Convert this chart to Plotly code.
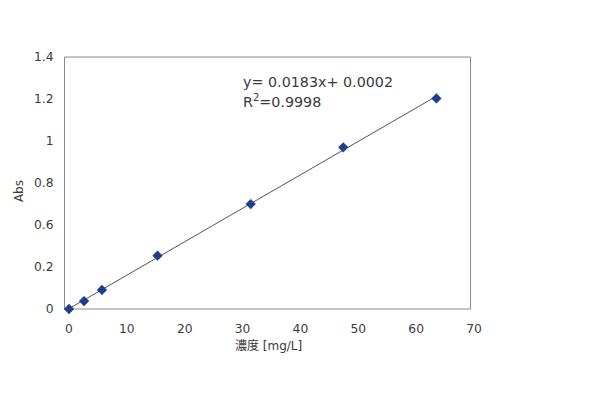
import numpy as np
import plotly.graph_objects as go

# Data
conc = [0, 2.6, 5.7, 15.3, 31.4, 47.4, 63.5]
absorb = [0.0, 0.044, 0.106, 0.296, 0.583, 0.898, 1.170]

x_ticks = [0, 10, 20, 30, 40, 50, 60, 70]
y_tick_labels = ["0", "0.2", "0.6", "0.8", "1", "1.2", "1.4"]
equation_text = "y= 0.0183x+ 0.0002"
r2_text = "R<sup>2</sup>=0.9998"
x_title = "濃度 [mg/L]"
y_title = "Abs"

FONT = "DejaVu Sans, Noto Sans CJK JP, sans-serif"
TXT = "#3a3a3a"

# least-squares trendline from data
k, b = np.polyfit(conc, absorb, 1)
tx = [min(conc), max(conc)]
ty = [k * v + b for v in tx]

y_range = [0, 1.4]
y_tickvals = list(np.linspace(y_range[0], y_range[1], len(y_tick_labels)))

fig = go.Figure()
fig.add_trace(go.Scatter(x=tx, y=ty, mode="lines", cliponaxis=False,
                         line=dict(color="#555555", width=1), hoverinfo="skip"))
fig.add_trace(go.Scatter(x=conc, y=absorb, mode="markers", cliponaxis=False,
                         marker=dict(symbol="diamond", size=7.5, color="#1c3f8e",
                                     line=dict(color="#1c3f8e", width=0.5))))

W, H = 600, 400
ml, mr, mt, mb = 68.5, 125.5, 57, 91
pw = W - ml - mr

fig.update_layout(
    width=W, height=H,
    margin=dict(l=ml, r=mr, t=mt, b=mb, pad=0),
    paper_bgcolor="white", plot_bgcolor="white",
    showlegend=False,
    font=dict(family=FONT, size=12, color=TXT),
    xaxis=dict(range=[0, 70], tickvals=x_ticks, showgrid=False, zeroline=False,
               showline=False, ticks="outside", ticklen=8,
               tickcolor="rgba(0,0,0,0)", tickfont=dict(size=12.3, color=TXT)),
    yaxis=dict(range=y_range, tickvals=y_tickvals, ticktext=y_tick_labels,
               showgrid=False, zeroline=False, showline=False,
               ticks="outside", ticklen=12, tickcolor="rgba(0,0,0,0)",
               tickfont=dict(size=12.3, color=TXT)),
    shapes=[dict(type="rect", xref="paper", yref="paper", layer="below",
                 x0=(64 - ml) / pw, x1=(471 - ml) / pw, y0=0, y1=1,
                 line=dict(color="#8a8a8a", width=1), fillcolor="rgba(0,0,0,0)")],
    annotations=[
        dict(text=equation_text, xref="paper", yref="paper",
             x=(241 - ml) / pw, y=(309 - 82) / 252, xanchor="left", yanchor="middle",
             showarrow=False, font=dict(size=14.3, color=TXT)),
        dict(text=r2_text, xref="paper", yref="paper",
             x=(241 - ml) / pw, y=(309 - 101) / 252, xanchor="left", yanchor="middle",
             showarrow=False, font=dict(size=14.3, color=TXT)),
        dict(text=x_title, xref="paper", yref="paper",
             x=(268 - ml) / pw, y=(309 - 346) / 252, xanchor="center", yanchor="middle",
             showarrow=False, font=dict(size=12, color=TXT)),
        dict(text=y_title, xref="paper", yref="paper",
             x=(18.5 - ml) / pw, y=(309 - 191) / 252, xanchor="center", yanchor="middle",
             textangle=-90, showarrow=False, font=dict(size=12, color=TXT)),
    ],
)

fig.write_html("out.html")
